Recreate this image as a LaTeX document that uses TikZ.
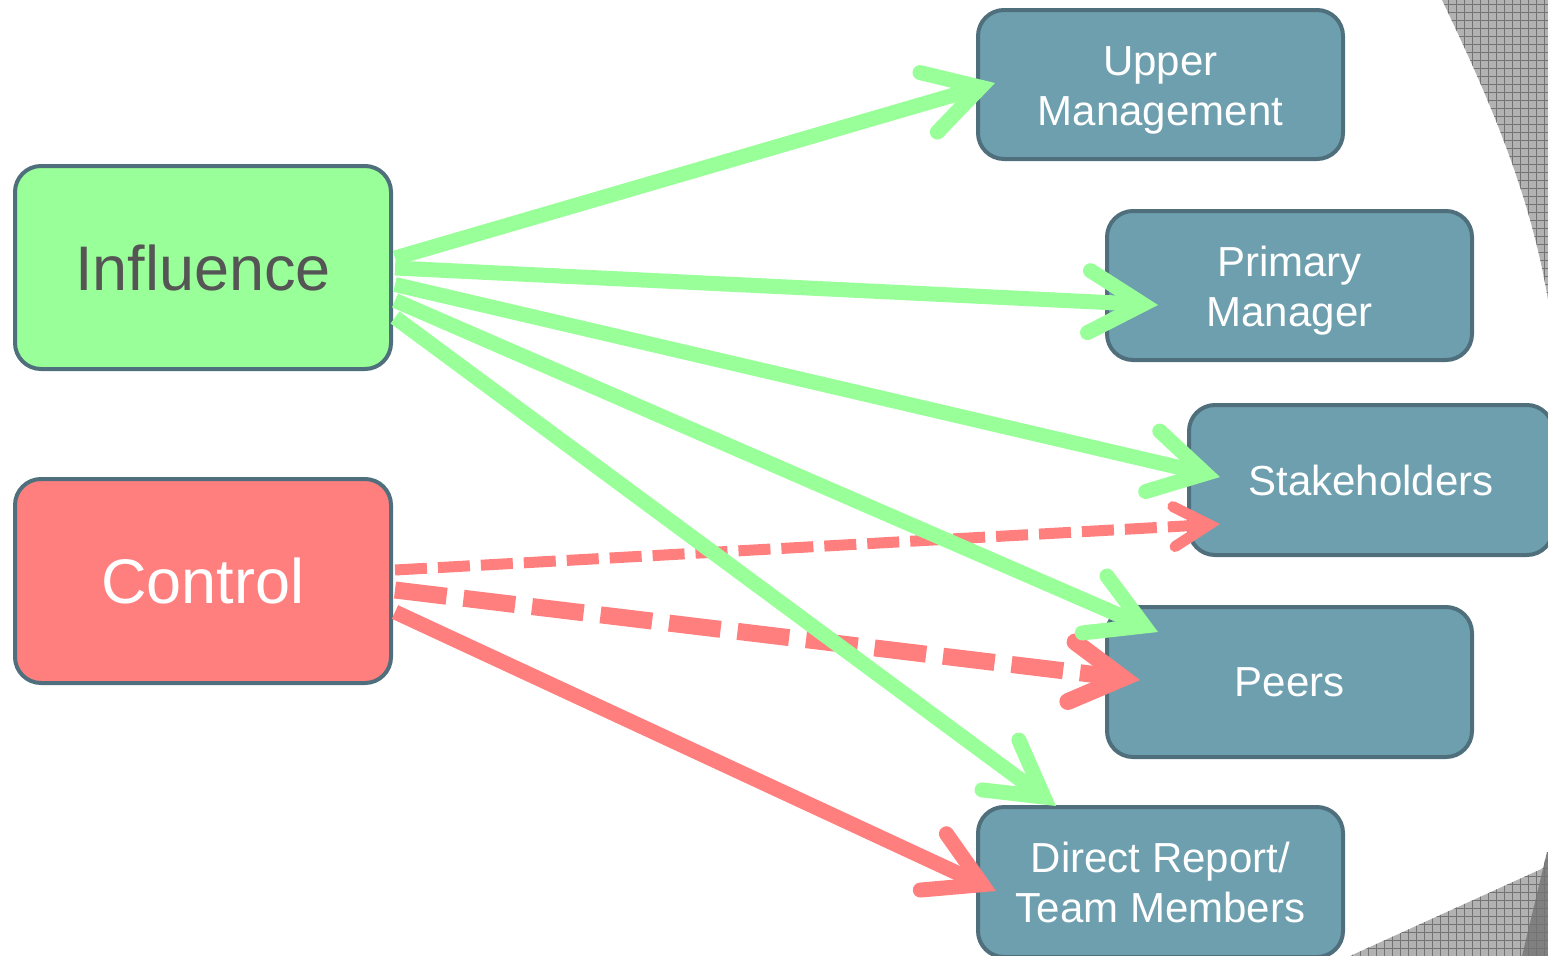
\documentclass[tikz,border=0pt]{standalone}
\usepackage{fontspec}
\setmainfont{Liberation Sans}
\usetikzlibrary{arrows.meta,calc,patterns.meta}
\definecolor{gfill}{HTML}{99FF99}
\definecolor{rfill}{HTML}{FF7F7F}
\definecolor{tfill}{HTML}{6E9FAE}
\definecolor{bord}{HTML}{4F6F7C}
\definecolor{itext}{HTML}{555555}
\tikzset{
  box/.style={draw=bord, line width=4pt, rounded corners=26pt, inner sep=0pt, align=center},
  bigbox/.style={box, minimum width=376pt, minimum height=203pt, font=\fontsize{63}{70}\selectfont},
  smallbox/.style={box, fill=tfill, text=white, minimum width=365pt, minimum height=149pt, font=\fontsize{42}{50}\selectfont},
  boxtext/.style={inner sep=0pt, align=center, text=white, font=\fontsize{42}{50}\selectfont},
  garrow/.style={draw=gfill, line width=15pt, line cap=butt,
    -{Straight Barb[length=54pt,width=62pt,line cap=round,line join=miter]}},
  rarrow/.style={draw=rfill, line width=15pt, line cap=butt,
    -{Straight Barb[length=54pt,width=62pt,line cap=round,line join=miter]}},
  rdashthin/.style={draw=rfill, line width=11pt, line cap=butt, dash pattern=on 32pt off 11pt,
    -{Straight Barb[length=35pt,width=40pt,line cap=round,line join=miter]}},
  rdashthick/.style={draw=rfill, line width=17pt, line cap=butt, dash pattern=on 52pt off 17pt,
    -{Straight Barb[length=52pt,width=60pt,line cap=round,line join=miter]}},
  deco/.style={pattern={Hatch[angle=0,distance=8pt,line width=0.8pt]}, pattern color=black!55}
}
\begin{document}
\begin{tikzpicture}[x=1pt,y=-1pt]
\useasboundingbox (0,0) rectangle (1548,956);
% background decoration
\fill[black!30] (1442,0) .. controls (1485,90) and (1530,190) .. (1548,300) -- (1548,0) -- cycle;
\fill[deco] (1442,0) .. controls (1485,90) and (1530,190) .. (1548,300) -- (1548,0) -- cycle;
\fill[black!30] (1350,956) -- (1548,866) -- (1548,956) -- cycle;
\fill[deco] (1350,956) -- (1548,866) -- (1548,956) -- cycle;
\fill[black!50] (1547,852) -- (1522,956) -- (1548,956) -- (1548,852) -- cycle;
\fill[deco] (1547,852) -- (1522,956) -- (1548,956) -- (1548,852) -- cycle;
% nodes
\node[bigbox, fill=gfill, text=itext] (infl) at (203,267.5) {\raisebox{-2pt}{Influence}};
\node[bigbox, fill=rfill, text=white, minimum height=204pt] (ctrl) at (203,581) {\raisebox{-2pt}{Control}};
\node[smallbox] (um) at (1160.5,84.5) {};
\node[boxtext, yshift=-6pt] (umt) at (um.center) {Upper\\Management};
\node[smallbox] (pm) at (1289.5,285.5) {};
\node[boxtext, yshift=-5pt] (pmt) at (pm.center) {Primary\\Manager};
\node[smallbox, minimum width=364pt, minimum height=150pt] (st) at (1371,480) {\raisebox{-1pt}{Stakeholders}};
\node[smallbox, minimum height=150pt] (pe) at (1289.5,682) {\raisebox{-1pt}{Peers}};
\node[smallbox, minimum height=150pt] (dr) at (1160.5,882) {Direct Report/\\Team Members};
% red connectors
\draw[rdashthin] ($(ctrl.east)+(2,-11)$) -- ($(st.west)+(33,44)$);
\draw[rdashthick] ($(ctrl.east)+(2,9)$) -- ($(pe.west)+(35,-2)$);
\draw[rarrow] ($(ctrl.east)+(2,31)$) -- ($(dr.west)+(20,9)$);
% green connectors
\draw[garrow] ($(infl.east)+(2,-9.5)$) -- ($(um.west)+(19,-1.5)$);
\draw[garrow] ($(infl.east)+(2,0.5)$) -- ($(pm.west)+(53,19.5)$);
\draw[garrow] ($(infl.east)+(2,17)$) -- ($(st.west)+(33,-3)$);
\draw[garrow] ($(infl.east)+(2,33)$) -- ($(pe.west)+(53,-50)$);
\draw[garrow] ($(infl.east)+(2,50)$) -- ($(dr.west)+(80,-76)$);
\end{tikzpicture}
\end{document}
